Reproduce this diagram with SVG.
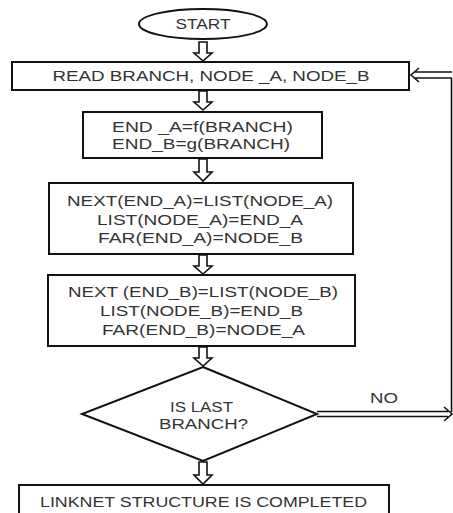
<svg xmlns="http://www.w3.org/2000/svg" width="453" height="513" viewBox="0 0 453 513">
<style>
.box{fill:#fff;stroke:#111;stroke-width:2}
.t{font-family:"Liberation Sans",Arial,sans-serif;font-size:14px;fill:#333;text-anchor:middle}
.ba{fill:#fff;stroke:#111;stroke-width:1.6;stroke-linejoin:miter}
.ln{fill:none;stroke:#111;stroke-width:1.6}
</style>
<rect width="453" height="513" fill="#fff"/>
<g id="connectors">
<path class="ba" d="M199,42 V53 H194 L203,61 L212,53 H207 V42 Z"/>
<path class="ba" d="M199,91 V102 H194 L203,110 L212,102 H207 V91 Z"/>
<path class="ba" d="M199,159 V172 H194 L203,181 L212,172 H207 V159 Z"/>
<path class="ba" d="M199,255 V266 H194 L203,274 L212,266 H207 V255 Z"/>
<path class="ba" d="M199,347 V358 H194 L203,366 L212,358 H207 V347 Z"/>
<path class="ba" d="M199,462 V475 H194 L203,484 L212,475 H207 V462 Z"/>
<path class="ln" d="M317,411.5 H448 M317,416.5 H448 M444,407 L452,414 L444,421"/>
<path class="ln" d="M451.5,78 V412"/>
<path class="ln" d="M452,72 H415 M452,78 H415 M419,68 L411,75 L419,82"/>
<text class="t" x="384" y="403" textLength="28" lengthAdjust="spacingAndGlyphs">NO</text>
</g>
<g id="start">
<ellipse class="box" cx="203" cy="24" rx="64" ry="15"/>
<text class="t" x="203" y="29" textLength="55" lengthAdjust="spacingAndGlyphs">START</text>
</g>
<g id="read">
<rect class="box" x="12" y="62" width="397" height="28"/>
<text class="t" x="211" y="81" textLength="317" lengthAdjust="spacingAndGlyphs">READ BRANCH,  NODE _A, NODE_B</text>
</g>
<g id="ends">
<rect class="box" x="83" y="112" width="239" height="46"/>
<text class="t" x="202.5" y="132" textLength="181" lengthAdjust="spacingAndGlyphs">END _A=f(BRANCH)</text>
<text class="t" x="201" y="149" textLength="178" lengthAdjust="spacingAndGlyphs">END_B=g(BRANCH)</text>
</g>
<g id="nodeA">
<rect class="box" x="49" y="183" width="304" height="71"/>
<text class="t" x="200" y="206" textLength="266" lengthAdjust="spacingAndGlyphs">NEXT(END_A)=LIST(NODE_A)</text>
<text class="t" x="200" y="225" textLength="206" lengthAdjust="spacingAndGlyphs">LIST(NODE_A)=END_A</text>
<text class="t" x="200.5" y="243" textLength="205" lengthAdjust="spacingAndGlyphs">FAR(END_A)=NODE_B</text>
</g>
<g id="nodeB">
<rect class="box" x="48" y="275" width="307" height="71"/>
<text class="t" x="203" y="297" textLength="270" lengthAdjust="spacingAndGlyphs">NEXT (END_B)=LIST(NODE_B)</text>
<text class="t" x="201.5" y="316" textLength="203" lengthAdjust="spacingAndGlyphs">LIST(NODE_B)=END_B</text>
<text class="t" x="203.5" y="335" textLength="203" lengthAdjust="spacingAndGlyphs">FAR(END_B)=NODE_A</text>
</g>
<g id="decision">
<polygon class="box" points="203,367 317,414 203,461 82,414"/>
<text class="t" x="201.5" y="412" textLength="63" lengthAdjust="spacingAndGlyphs">IS LAST</text>
<text class="t" x="203.5" y="429" textLength="89" lengthAdjust="spacingAndGlyphs">BRANCH?</text>
</g>
<g id="end">
<rect class="box" x="19" y="485" width="370" height="40"/>
<text class="t" x="203.5" y="507" textLength="327" lengthAdjust="spacingAndGlyphs">LINKNET STRUCTURE IS COMPLETED</text>
</g>
</svg>
